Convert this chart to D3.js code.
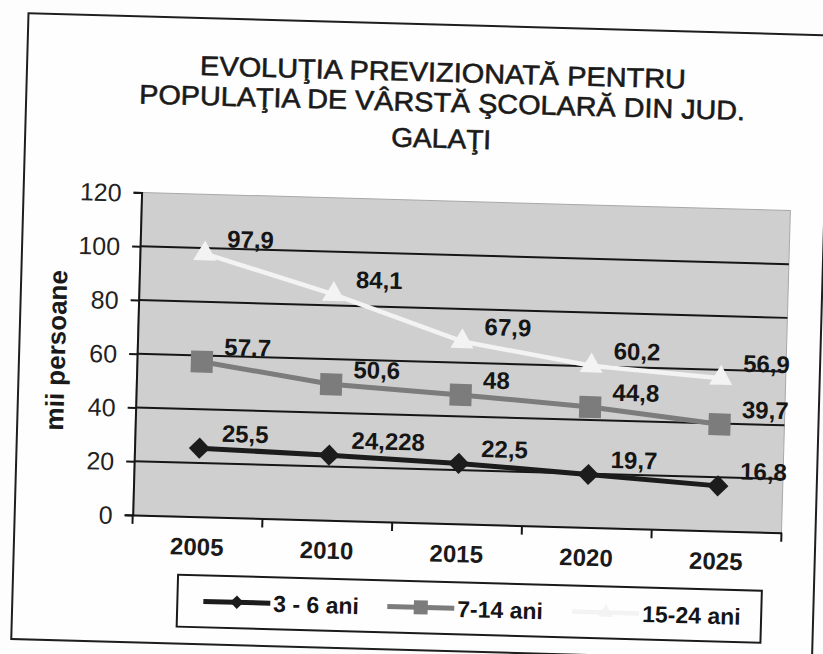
<!DOCTYPE html>
<html>
<head>
<meta charset="utf-8">
<script src="https://cdn.jsdelivr.net/npm/d3@7/dist/d3.min.js"></script>
<style>
  html, body { margin: 0; padding: 0; background: #fdfdfd; }
  svg { display: block; font-family: "Liberation Sans", Arial, sans-serif; }
</style>
</head>
<body>
<svg id="chart" width="823" height="654"></svg>
<script>
// ---- data ----
const years = ["2005", "2010", "2015", "2020", "2025"];
const age3_6 = [25.5, 24.228, 22.5, 19.7, 16.8];
const age7_14 = [57.7, 50.6, 48, 44.8, 39.7];
const age15_24 = [97.9, 84.1, 67.9, 60.2, 56.9];
const labels3_6 = ["25,5", "24,228", "22,5", "19,7", "16,8"];
const labels7_14 = ["57.7", "50,6", "48", "44,8", "39,7"];
const labels15_24 = ["97,9", "84,1", "67,9", "60,2", "56,9"];
const seriesNames = ["3 - 6 ani", "7-14 ani", "15-24 ani"];
const yTicks = [0, 20, 40, 60, 80, 100, 120];
const titleLines = ["EVOLUŢIA PREVIZIONATĂ PENTRU", "POPULAŢIA DE VÂRSTĂ ŞCOLARĂ DIN JUD.", "GALAŢI"];
const yTitle = "mii persoane";

// ---- layout ----
const plot = { left: 138, right: 787, top: 200, bottom: 522.5 };
const svg = d3.select("#chart");
const root = svg.append("g").attr("transform", "rotate(1.58, 411, 327)");

// outer frame
root.append("rect")
  .attr("x", 20).attr("y", 24).attr("width", 801).attr("height", 626)
  .attr("fill", "#fefefe").attr("stroke", "#1e1e1e").attr("stroke-width", 2);

// title
const titleBase = [81, 111, 147];
const titleWidth = [486, 606, 100];
root.append("g").selectAll("text").data(titleLines).join("text")
  .attr("x", 436).attr("y", (d, i) => titleBase[i])
  .attr("text-anchor", "middle")
  .attr("font-size", 27).attr("fill", "#1a1a1a")
  .attr("stroke", "#1a1a1a").attr("stroke-width", 0.6)
  .attr("textLength", (d, i) => titleWidth[i]).attr("lengthAdjust", "spacingAndGlyphs")
  .text(d => d);

const x = d3.scaleBand().domain(years).range([plot.left, plot.right]).padding(0);
const y = d3.scaleLinear().domain([0, 120]).range([plot.bottom, plot.top]);

// plot area
root.append("rect")
  .attr("x", plot.left).attr("y", plot.top)
  .attr("width", plot.right - plot.left).attr("height", plot.bottom - plot.top)
  .attr("fill", "#cfcfcf").attr("stroke", "#a8a8a8").attr("stroke-width", 1);

// gridlines
root.append("g").selectAll("line").data(yTicks.filter(t => t > 0 && t < 120)).join("line")
  .attr("x1", plot.left).attr("x2", plot.right)
  .attr("y1", d => y(d)).attr("y2", d => y(d))
  .attr("stroke", "#161616").attr("stroke-width", 2);

// y axis
const yAxis = root.append("g").attr("transform", `translate(${plot.left},0)`)
  .call(d3.axisLeft(y).tickValues(yTicks).tickSize(8).tickPadding(12));
yAxis.select(".domain").attr("stroke", "#161616").attr("stroke-width", 2);
yAxis.selectAll(".tick line").attr("stroke", "#161616").attr("stroke-width", 2);
yAxis.selectAll(".tick text").attr("font-size", 25).attr("fill", "#222")
  .attr("font-family", "'Liberation Sans', Arial, sans-serif").attr("dy", "0.36em");

// x axis
const xAxis = root.append("g").attr("transform", `translate(0,${plot.bottom})`)
  .call(d3.axisBottom(x).tickSize(0).tickPadding(24));
xAxis.select(".domain").attr("stroke", "#161616").attr("stroke-width", 2);
xAxis.selectAll(".tick text").attr("font-size", 24).attr("font-weight", "bold")
  .attr("fill", "#1a1a1a").attr("font-family", "'Liberation Sans', Arial, sans-serif")
  .attr("dy", "0.6em");
// ticks at band boundaries
const boundaries = years.map(d => x(d)).concat([x(years[years.length - 1]) + x.bandwidth()]);
root.append("g").selectAll("line").data(boundaries).join("line")
  .attr("x1", d => d).attr("x2", d => d)
  .attr("y1", plot.bottom).attr("y2", plot.bottom + 9)
  .attr("stroke", "#161616").attr("stroke-width", 2);

// y title
root.append("text")
  .attr("transform", "translate(66,360) rotate(-90)")
  .attr("text-anchor", "middle")
  .attr("font-size", 26).attr("font-weight", "bold").attr("fill", "#1a1a1a")
  .text(yTitle);

// series
const series = [
  { name: seriesNames[0], values: age3_6, labels: labels3_6, color: "#1c1c1c", width: 5,
    symbol: d3.symbolSquare, size: 225, rotate: 45 },
  { name: seriesNames[1], values: age7_14, labels: labels7_14, color: "#7c7c7c", width: 5,
    symbol: d3.symbolSquare, size: 484, rotate: 0 },
  { name: seriesNames[2], values: age15_24, labels: labels15_24, color: "#f3f3f3", width: 4.5,
    symbol: d3.symbolTriangle, size: 230, rotate: 0 }
];

const line = d3.line().x((d, i) => x(years[i]) + x.bandwidth() / 2).y(d => y(d));

series.forEach(s => {
  const g = root.append("g");
  g.append("path").attr("d", line(s.values))
    .attr("fill", "none").attr("stroke", s.color).attr("stroke-width", s.width)
    .attr("stroke-linejoin", "round");
  g.selectAll("path.m").data(s.values).join("path").attr("class", "m")
    .attr("d", d3.symbol().type(s.symbol).size(s.size))
    .attr("transform", (d, i) => `translate(${x(years[i]) + x.bandwidth() / 2},${y(d)}) rotate(${s.rotate})`)
    .attr("fill", s.color);
});

series.forEach(s => {
  root.append("g").selectAll("text").data(s.values).join("text")
    .attr("x", (d, i) => x(years[i]) + x.bandwidth() / 2 + 22)
    .attr("y", d => y(d) - 7)
    .attr("font-size", 24).attr("font-weight", "bold").attr("fill", "#151515")
    .text((d, i) => s.labels[i]);
});

// legend
const legend = root.append("g");
legend.append("rect")
  .attr("x", 185).attr("y", 581).attr("width", 584).attr("height", 52)
  .attr("fill", "#fefefe").attr("stroke", "#1a1a1a").attr("stroke-width", 2);
const legendX = [211, 395, 580];
series.forEach((s, i) => {
  const lx = legendX[i], ly = 607;
  legend.append("line").attr("x1", lx).attr("x2", lx + 67).attr("y1", ly).attr("y2", ly)
    .attr("stroke", s.color).attr("stroke-width", s.width);
  legend.append("path")
    .attr("d", d3.symbol().type(s.symbol).size(s.size * 0.4)())
    .attr("transform", `translate(${lx + 33.5},${ly}) rotate(${s.rotate})`)
    .attr("fill", s.color);
  legend.append("text")
    .attr("x", lx + 70).attr("y", ly + 8.5)
    .attr("font-size", 23).attr("font-weight", "bold").attr("fill", "#151515")
    .text(s.name);
});
</script>
</body>
</html>
